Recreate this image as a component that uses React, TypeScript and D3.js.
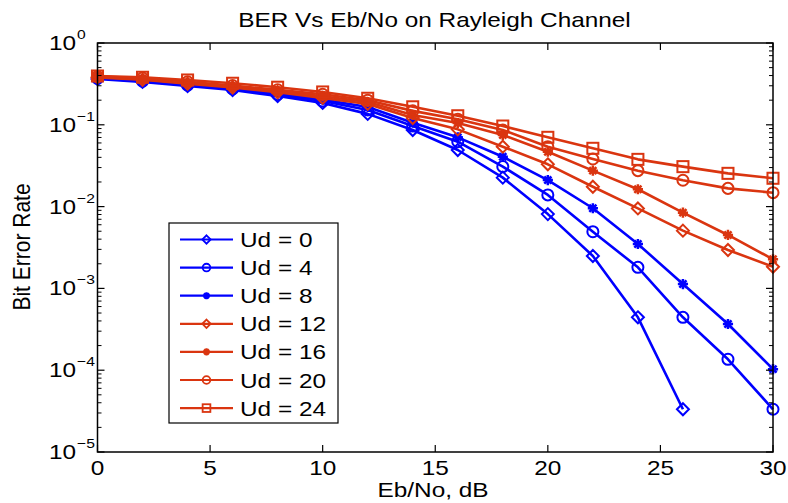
import React from 'react';
import * as d3 from 'd3';

// Eb/No axis (dB)
const ebno = [0, 2, 4, 6, 8, 10, 12, 14, 16, 18, 20, 22, 24, 26, 28, 30];

// BER per Doppler setting
const ud0 = [0.363, 0.334, 0.298, 0.266, 0.225, 0.185, 0.136, 0.0863, 0.0492, 0.0226, 0.0081, 0.00249, 0.000443, 0.0000333];
const ud4 = [0.37, 0.342, 0.306, 0.274, 0.235, 0.195, 0.152, 0.0966, 0.0622, 0.0308, 0.0139, 0.00493, 0.00181, 0.000443, 0.000136, 0.0000333];
const ud8 = [0.375, 0.348, 0.312, 0.28, 0.242, 0.203, 0.165, 0.106, 0.0703, 0.0407, 0.0211, 0.00954, 0.00349, 0.00113, 0.000367, 0.000103];
const ud12 = [0.38, 0.355, 0.318, 0.286, 0.25, 0.213, 0.18, 0.121, 0.088, 0.054, 0.0329, 0.0175, 0.0095, 0.00508, 0.00295, 0.00184];
const ud16 = [0.385, 0.362, 0.325, 0.293, 0.258, 0.223, 0.19, 0.132, 0.105, 0.075, 0.0469, 0.0275, 0.0163, 0.00843, 0.0045, 0.00227];
const ud20 = [0.39, 0.372, 0.335, 0.302, 0.268, 0.236, 0.2, 0.148, 0.117, 0.0863, 0.054, 0.0382, 0.0275, 0.021, 0.0167, 0.0148];
const ud24 = [0.395, 0.381, 0.353, 0.322, 0.288, 0.252, 0.211, 0.166, 0.129, 0.0966, 0.0703, 0.0516, 0.0378, 0.0308, 0.0255, 0.0222];

const labels = ['Ud = 0', 'Ud = 4', 'Ud = 8', 'Ud = 12', 'Ud = 16', 'Ud = 20', 'Ud = 24'];
const xTicks = [0, 5, 10, 15, 20, 25, 30];
const yExponents = [0, -1, -2, -3, -4, -5];

const BLUE = '#0000FF';
const RED = '#DA3510';

const series = [
  { name: labels[0], values: ud0, color: BLUE, marker: 'diamond' },
  { name: labels[1], values: ud4, color: BLUE, marker: 'circle' },
  { name: labels[2], values: ud8, color: BLUE, marker: 'star' },
  { name: labels[3], values: ud12, color: RED, marker: 'diamond' },
  { name: labels[4], values: ud16, color: RED, marker: 'star' },
  { name: labels[5], values: ud20, color: RED, marker: 'circle' },
  { name: labels[6], values: ud24, color: RED, marker: 'square' },
];

const W = 788;
const H = 503;
const plot = { left: 97.5, right: 773, top: 43, bottom: 452 };
const FONT = 'Liberation Sans, Arial, Helvetica, sans-serif';
const SX = 1.16; // the original image is stretched horizontally

const Marker = ({ type, x, y, s, color, sw }: any) => {
  if (type === 'diamond') {
    return <path d={`M${x},${y - s}L${x + s},${y}L${x},${y + s}L${x - s},${y}Z`} fill="none" stroke={color} strokeWidth={sw} />;
  }
  if (type === 'circle') {
    return <circle cx={x} cy={y} r={s * 0.92} fill="none" stroke={color} strokeWidth={sw} />;
  }
  if (type === 'square') {
    const h = s * 0.92;
    return <rect x={x - h} y={y - h} width={2 * h} height={2 * h} fill="none" stroke={color} strokeWidth={sw} />;
  }
  // asterisk
  const r = s * 0.85;
  const d = r * 0.7;
  return (
    <path
      d={`M${x - r},${y}L${x + r},${y}M${x},${y - r}L${x},${y + r}M${x - d},${y - d}L${x + d},${y + d}M${x - d},${y + d}L${x + d},${y - d}`}
      stroke={color}
      strokeWidth={sw + 0.5}
      fill="none"
    />
  );
};

const SText = ({ x, y, size, anchor = 'start', children, rotate = false }: any) => (
  <text
    transform={rotate ? `translate(${x},${y}) rotate(-90) scale(1,${SX})` : `translate(${x},${y}) scale(${SX},1)`}
    fontSize={size}
    fontFamily={FONT}
    textAnchor={anchor}
    fill="#000"
  >
    {children}
  </text>
);

export default function App() {
  const x = d3.scaleLinear().domain([0, 30]).range([plot.left, plot.right]);
  const y = d3.scaleLog().domain([1e-5, 1]).range([plot.bottom, plot.top]);

  const line = d3
    .line<number>()
    .x((_, i) => x(ebno[i]))
    .y(d => y(d));

  // minor ticks 2..9 in each decade
  const minor: number[] = [];
  for (let e = -5; e < 0; e++) {
    for (let m = 2; m <= 9; m++) minor.push(m * Math.pow(10, e));
  }

  const legend = { x: 169, y: 223, w: 169, h: 200, row0: 239.5, step: 28.1 };

  return (
    <svg width={W} height={H} style={{ position: 'absolute', left: 0, top: 0, background: '#fff' }}>
      <rect x={0} y={0} width={W} height={H} fill="#fff" />

      {/* data */}
      {series.map(s => (
        <g key={s.name}>
          <path d={line(s.values) || ''} fill="none" stroke={s.color} strokeWidth={2.6} strokeLinejoin="round" />
          {s.values.map((v, i) => (
            <Marker key={i} type={s.marker} x={x(ebno[i])} y={y(v)} s={6} color={s.color} sw={2} />
          ))}
        </g>
      ))}

      {/* axes box */}
      <rect x={plot.left} y={plot.top} width={plot.right - plot.left} height={plot.bottom - plot.top} fill="none" stroke="#000" strokeWidth={1.5} />

      {xTicks.map(t => (
        <g key={t}>
          <line x1={x(t)} x2={x(t)} y1={plot.bottom} y2={plot.bottom - 7} stroke="#000" strokeWidth={1.2} />
          <line x1={x(t)} x2={x(t)} y1={plot.top} y2={plot.top + 7} stroke="#000" strokeWidth={1.2} />
          <SText x={x(t)} y={475} size={21} anchor="middle">{t}</SText>
        </g>
      ))}

      {yExponents.map(e => {
        const ty = y(Math.pow(10, e));
        return (
          <g key={e}>
            <line x1={plot.left} x2={plot.left + 7} y1={ty} y2={ty} stroke="#000" strokeWidth={1.2} />
            <line x1={plot.right} x2={plot.right - 7} y1={ty} y2={ty} stroke="#000" strokeWidth={1.2} />
            <SText x={76} y={ty + 7} size={21} anchor="end">10</SText>
            <SText x={77} y={ty - 4} size={13.5}>{e === 0 ? '0' : `\u2212${-e}`}</SText>
          </g>
        );
      })}

      {minor.map((m, i) => (
        <g key={i}>
          <line x1={plot.left} x2={plot.left + 4} y1={y(m)} y2={y(m)} stroke="#000" strokeWidth={1} />
          <line x1={plot.right} x2={plot.right - 4} y1={y(m)} y2={y(m)} stroke="#000" strokeWidth={1} />
        </g>
      ))}

      {/* titles */}
      <SText x={434.5} y={27} size={21} anchor="middle">BER Vs Eb/No on Rayleigh Channel</SText>
      <SText x={433} y={497} size={21} anchor="middle">Eb/No, dB</SText>
      <SText x={30} y={247} size={21} anchor="middle" rotate>Bit Error Rate</SText>

      {/* legend */}
      <rect x={legend.x} y={legend.y} width={legend.w} height={legend.h} fill="#fff" stroke="#000" strokeWidth={1.2} />
      {series.map((s, i) => {
        const ly = legend.row0 + i * legend.step;
        return (
          <g key={s.name}>
            <line x1={180} x2={233} y1={ly} y2={ly} stroke={s.color} strokeWidth={2.2} />
            <Marker type={s.marker} x={206.5} y={ly} s={4.2} color={s.color} sw={1.8} />
            <SText x={240} y={ly + 7.5} size={21}>{s.name}</SText>
          </g>
        );
      })}
    </svg>
  );
}
